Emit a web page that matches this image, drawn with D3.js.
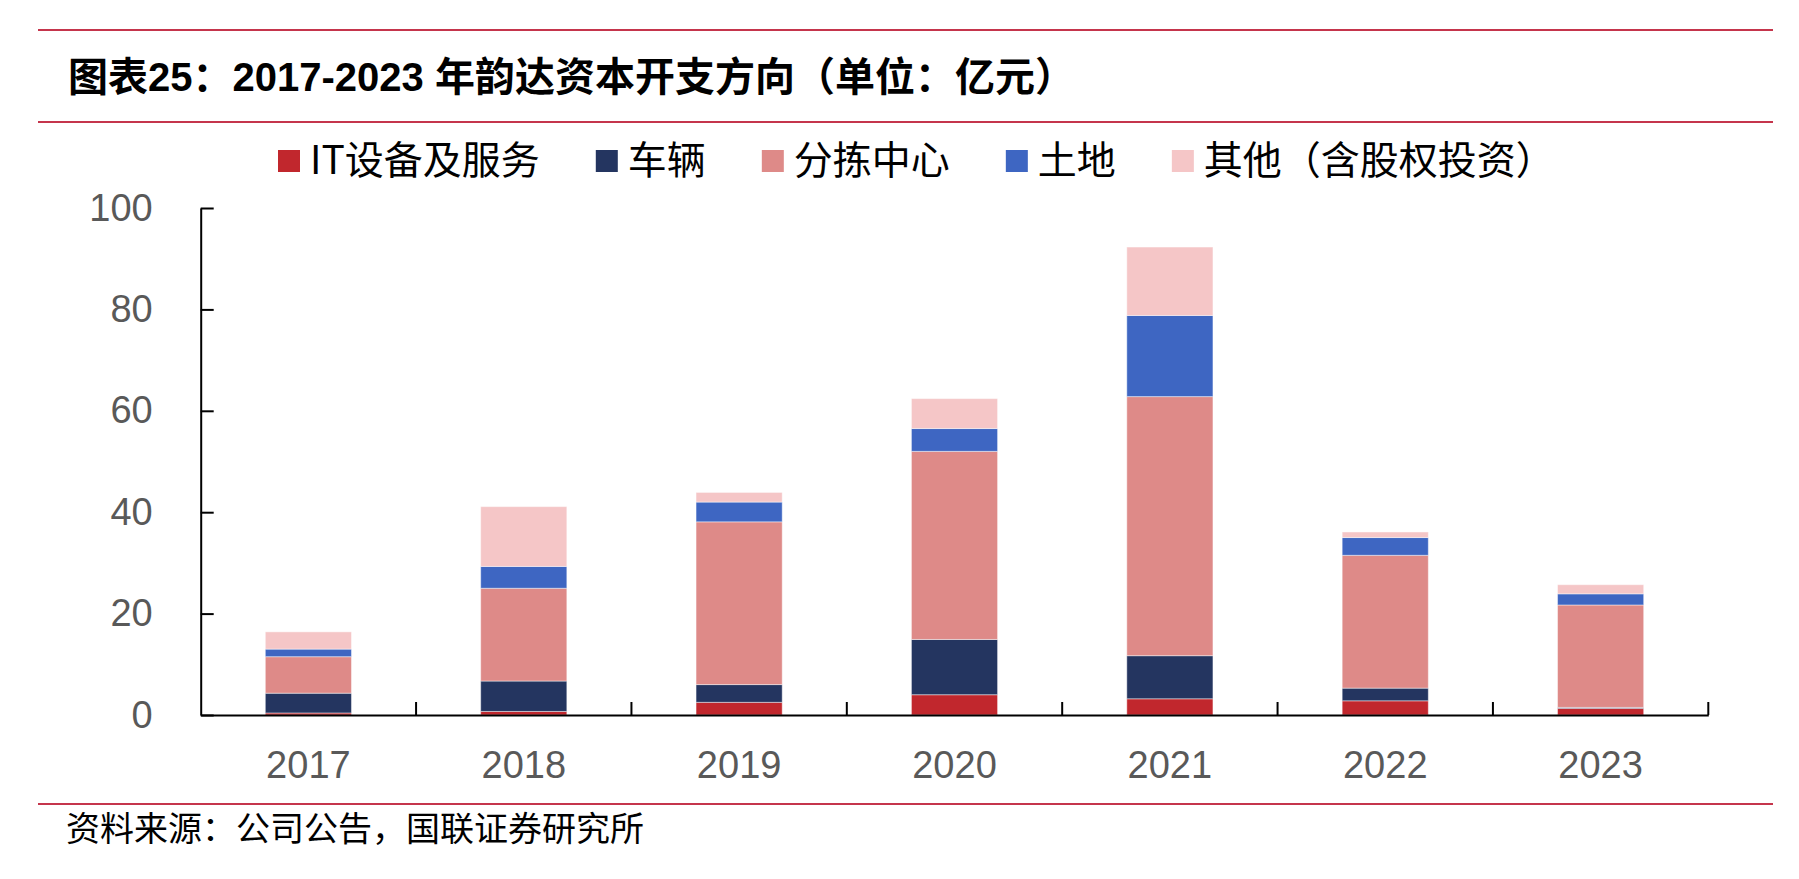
<!DOCTYPE html>
<html>
<head>
<meta charset="utf-8">
<script src="https://cdn.jsdelivr.net/npm/d3@7"></script>
<style>
  html, body { margin: 0; padding: 0; background: #fff; }
  svg { display: block; }
</style>
</head>
<body>
<div id="chart"></div>
<script>
// 2017-2023 韵达资本开支方向 (亿元)
const years = ["2017", "2018", "2019", "2020", "2021", "2022", "2023"];
const seriesNames = ["IT设备及服务", "车辆", "分拣中心", "土地", "其他（含股权投资）"];
const itEquip  = [0.4, 0.7, 2.5, 4.0, 3.2, 2.8, 1.3];
const vehicles = [3.9, 6.0, 3.5, 10.9, 8.5, 2.5, 0.2];
const sorting  = [7.2, 18.3, 32.1, 37.1, 51.1, 26.2, 20.2];
const land     = [1.5, 4.3, 3.9, 4.5, 16.0, 3.5, 2.2];
const others   = [3.4, 11.8, 1.9, 5.9, 13.5, 1.1, 1.8];
const yTicks = [0, 20, 40, 60, 80, 100];

const colors = ["#c1272d", "#243560", "#de8a88", "#3e66c2", "#f5c6c7"];

const width = 1799, height = 879;
const margin = { left: 200.7, right: 1708.3, top: 208, bottom: 715 };

const rows = years.map((yr, i) => ({
    year: yr,
    [seriesNames[0]]: itEquip[i],
    [seriesNames[1]]: vehicles[i],
    [seriesNames[2]]: sorting[i],
    [seriesNames[3]]: land[i],
    [seriesNames[4]]: others[i]
}));

const svg = d3.select("#chart")
    .append("svg")
    .attr("width", width)
    .attr("height", height)
    .attr("viewBox", `0 0 ${width} ${height}`);

svg.append("rect").attr("width", width).attr("height", height).attr("fill", "#fff");

// red frame lines
const lineColor = "#c5354c";
[30, 122, 804].forEach(y => {
    svg.append("line")
        .attr("x1", 38).attr("x2", 1773)
        .attr("y1", y).attr("y2", y)
        .attr("stroke", lineColor)
        .attr("stroke-width", 2.2);
});

// title
const title = svg.append("text")
    .attr("x", 68)
    .attr("y", 91)
    .attr("font-family", "'Noto Sans CJK SC', sans-serif")
    .attr("font-size", "40px")
    .attr("font-weight", "700")
    .attr("fill", "#000");
title.append("tspan").text("图表");
title.append("tspan").attr("font-family", "'Liberation Sans', Arial, sans-serif").text("25");
title.append("tspan").text("：");
title.append("tspan").attr("font-family", "'Liberation Sans', Arial, sans-serif").text("2017-2023 ");
title.append("tspan").text("年韵达资本开支方向（单位：亿元）");

// scales
const x = d3.scaleBand()
    .domain(years)
    .range([margin.left, margin.right])
    .paddingInner(0.6)
    .paddingOuter(0.3);

const y = d3.scaleLinear()
    .domain([0, 100])
    .range([margin.bottom, margin.top]);

const stacked = d3.stack().keys(seriesNames)(rows);

// bars
svg.append("g")
    .selectAll("g")
    .data(stacked)
    .join("g")
    .attr("fill", (d, i) => colors[i])
    .selectAll("rect")
    .data(d => d)
    .join("rect")
    .attr("x", d => x(d.data.year))
    .attr("width", x.bandwidth())
    .attr("y", d => y(d[1]))
    .attr("height", d => y(d[0]) - y(d[1]))
    .attr("stroke", "#ffffff")
    .attr("stroke-opacity", 0.45)
    .attr("stroke-width", 1);

// y axis
const yAxis = svg.append("g")
    .attr("transform", `translate(${margin.left},0)`)
    .call(d3.axisLeft(y).tickValues(yTicks).tickSizeInner(-13).tickSizeOuter(0).tickPadding(48));
yAxis.select(".domain").attr("stroke", "#000").attr("stroke-width", 2);
yAxis.selectAll(".tick line").attr("stroke", "#000").attr("stroke-width", 2);
yAxis.selectAll("text")
    .attr("font-family", "'Liberation Sans', Arial, sans-serif")
    .attr("font-size", "38px")
    .attr("fill", "#595959");

// x axis
const xAxis = svg.append("g")
    .attr("transform", `translate(0,${margin.bottom})`)
    .call(d3.axisBottom(x).tickSize(0).tickPadding(36));
xAxis.select(".domain").attr("stroke", "#000").attr("stroke-width", 2);
xAxis.selectAll("text")
    .attr("font-family", "'Liberation Sans', Arial, sans-serif")
    .attr("font-size", "38px")
    .attr("fill", "#595959");

// category boundary ticks (pointing up)
const step = x.step();
xAxis.selectAll(".bound")
    .data(years)
    .join("line")
    .attr("class", "bound")
    .attr("x1", d => x(d) - step * x.paddingOuter() + step)
    .attr("x2", d => x(d) - step * x.paddingOuter() + step)
    .attr("y1", 0)
    .attr("y2", -13)
    .attr("stroke", "#000")
    .attr("stroke-width", 2);

// legend
const legend = svg.append("g").attr("transform", "translate(278,0)");
let lx = 0;
seriesNames.forEach((name, i) => {
    legend.append("rect")
        .attr("x", lx).attr("y", 150)
        .attr("width", 22).attr("height", 22)
        .attr("fill", colors[i]);
    const t = legend.append("text")
        .attr("x", lx + 32)
        .attr("y", 174)
        .attr("font-family", "'Noto Sans CJK SC', sans-serif")
        .attr("font-size", "39px")
        .attr("fill", "#000")
        .text(name);
    lx += 32 + t.node().getComputedTextLength() + 56;
});

// source note
svg.append("text")
    .attr("x", 66)
    .attr("y", 841)
    .attr("font-family", "'Noto Sans CJK SC', sans-serif")
    .attr("font-size", "34px")
    .attr("fill", "#000")
    .text("资料来源：公司公告，国联证券研究所");
</script>
</body>
</html>
